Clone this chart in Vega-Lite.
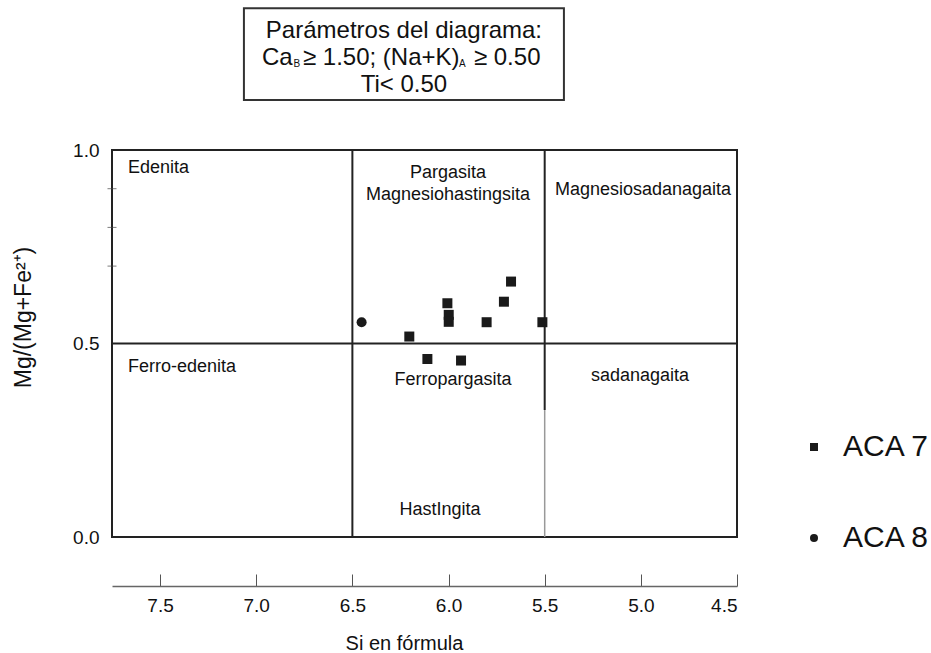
{
  "$schema": "https://vega.github.io/schema/vega-lite/v6.json",
  "width": 625,
  "height": 387,
  "autosize": {"type": "none"},
  "padding": {"left": 112, "top": 150, "right": 194, "bottom": 116},
  "config": {
    "view": {"stroke": "#222", "strokeWidth": 2},
    "font": "Liberation Sans",
    "axis": {"grid": false}
  },
  "encoding": {
    "x": {
      "field": "si", "type": "quantitative",
      "scale": {"domain": [4.5, 7.75], "reverse": true, "nice": false, "zero": false},
      "axis": {
        "title": "Si en fórmula", "values": [7.5, 7.0, 6.5, 6.0, 5.5, 5.0, 4.5], "format": ".1f",
        "offset": 49, "domainColor": "#666", "domainWidth": 1.5,
        "tickColor": "#555", "tickWidth": 1, "tickSize": -12,
        "labelFontSize": 19, "labelColor": "#111", "labelPadding": 22, "labelFont": "Liberation Sans",
        "titleFontSize": 20, "titleFontWeight": "normal", "titleColor": "#111", "titleFont": "Liberation Sans",
        "titleX": 292, "titleY": 57, "titleBaseline": "middle", "titleAlign": "center"
      }
    },
    "y": {
      "field": "v", "type": "quantitative",
      "scale": {"domain": [0, 1], "nice": false, "zero": false},
      "axis": {
        "title": "Mg/(Mg+Fe²⁺)", "values": [0, 0.5, 1], "format": ".1f",
        "domain": false, "ticks": false, "labelPadding": 13,
        "labelFontSize": 19, "labelColor": "#111", "labelFont": "Liberation Sans",
        "titleFontSize": 23, "titleFontWeight": "normal", "titleColor": "#111", "titleFont": "Liberation Sans",
        "titleX": -89, "titleY": 167, "titleBaseline": "middle", "titleAlign": "center", "titleAngle": 270
      }
    }
  },
  "layer": [
    {
      "data": {"values": [
        {"si": 6.5, "v": 0, "v2": 1},
        {"si": 5.5, "v": 0.328, "v2": 1}
      ]},
      "mark": {"type": "rule", "color": "#222", "strokeWidth": 2},
      "encoding": {"y2": {"field": "v2"}}
    },
    {
      "data": {"values": [
        {"si": 5.5, "v": 0, "v2": 0.328}
      ]},
      "mark": {"type": "rule", "color": "#999", "strokeWidth": 1.5},
      "encoding": {"y2": {"field": "v2"}}
    },
    {
      "data": {"values": [
        {"si": 7.75, "si2": 4.5, "v": 0.5}
      ]},
      "mark": {"type": "rule", "color": "#222", "strokeWidth": 2},
      "encoding": {"x2": {"field": "si2"}}
    },
    {
      "data": {"values": [
        {"si": 7.75, "v": 0.9},
        {"si": 7.75, "v": 0.8},
        {"si": 7.75, "v": 0.7}
      ]},
      "mark": {"type": "tick", "orient": "horizontal", "size": 9, "thickness": 1, "color": "#444"}
    },
    {
      "data": {"values": [
        {"si": 7.064, "si2": 5.4, "v": 1.366, "v2": 1.129}
      ]},
      "mark": {"type": "rect", "fill": "white", "fillOpacity": 0, "stroke": "#333", "strokeWidth": 2},
      "encoding": {"x2": {"field": "si2"}, "y2": {"field": "v2"}}
    },
    {
      "data": {"values": [
        {"si": 6.232, "v": 1.2886, "t": "Parámetros del diagrama:"},
        {"si": 6.232, "v": 1.1506, "t": "Ti< 0.50"}
      ]},
      "mark": {"type": "text", "fontSize": 24, "align": "center", "baseline": "alphabetic", "color": "#111", "font": "Liberation Sans"},
      "encoding": {"text": {"field": "t"}}
    },
    {
      "data": {"values": [
        {"si": 6.97, "v": 1.2196, "t": "Ca"},
        {"si": 6.757, "v": 1.2196, "t": "≥ 1.50; (Na+K)"},
        {"si": 5.868, "v": 1.2196, "t": "≥ 0.50"}
      ]},
      "mark": {"type": "text", "fontSize": 24, "align": "left", "baseline": "alphabetic", "color": "#111", "font": "Liberation Sans"},
      "encoding": {"text": {"field": "t"}}
    },
    {
      "data": {"values": [
        {"si": 6.806, "v": 1.2153, "t": "B"},
        {"si": 5.945, "v": 1.2153, "t": "A"}
      ]},
      "mark": {"type": "text", "fontSize": 10, "align": "left", "baseline": "alphabetic", "color": "#111", "font": "Liberation Sans"},
      "encoding": {"text": {"field": "t"}}
    },
    {
      "data": {"values": [
        {"si": 7.667, "v": 0.953, "t": "Edenita"},
        {"si": 7.667, "v": 0.439, "t": "Ferro-edenita"}
      ]},
      "mark": {"type": "text", "fontSize": 18, "align": "left", "baseline": "middle", "color": "#111", "font": "Liberation Sans"},
      "encoding": {"text": {"field": "t"}}
    },
    {
      "data": {"values": [
        {"si": 6.003, "v": 0.941, "t": "Pargasita"},
        {"si": 6.003, "v": 0.884, "t": "Magnesiohastingsita"},
        {"si": 5.977, "v": 0.406, "t": "Ferropargasita"},
        {"si": 6.044, "v": 0.07, "t": "HastIngita"},
        {"si": 4.989, "v": 0.897, "t": "Magnesiosadanagaita"},
        {"si": 5.004, "v": 0.416, "t": "sadanagaita"}
      ]},
      "mark": {"type": "text", "fontSize": 18, "align": "center", "baseline": "middle", "color": "#111", "font": "Liberation Sans"},
      "encoding": {"text": {"field": "t"}}
    },
    {
      "data": {"values": [
        {"muestra": "ACA 8", "si": 6.452, "v": 0.555},
        {"muestra": "ACA 7", "si": 6.204, "v": 0.518},
        {"muestra": "ACA 7", "si": 6.11, "v": 0.46},
        {"muestra": "ACA 7", "si": 5.935, "v": 0.456},
        {"muestra": "ACA 7", "si": 6.006, "v": 0.604},
        {"muestra": "ACA 7", "si": 5.999, "v": 0.574},
        {"muestra": "ACA 7", "si": 5.999, "v": 0.556},
        {"muestra": "ACA 7", "si": 5.802, "v": 0.555},
        {"muestra": "ACA 7", "si": 5.712, "v": 0.608},
        {"muestra": "ACA 7", "si": 5.675, "v": 0.66},
        {"muestra": "ACA 7", "si": 5.512, "v": 0.555}
      ]},
      "mark": {"type": "point", "filled": true, "size": 100, "color": "#1a1a1a", "opacity": 1},
      "encoding": {
        "shape": {
          "field": "muestra", "type": "nominal",
          "scale": {"domain": ["ACA 7", "ACA 8"], "range": ["square", "circle"]},
          "legend": {
            "title": null, "orient": "none", "legendX": 687, "legendY": 282,
            "labelFontSize": 30, "labelFont": "Liberation Sans", "labelColor": "#111",
            "symbolSize": 64, "symbolFillColor": "#1a1a1a", "symbolStrokeColor": "#1a1a1a",
            "labelOffset": 14, "rowPadding": 61
          }
        }
      }
    }
  ]
}
